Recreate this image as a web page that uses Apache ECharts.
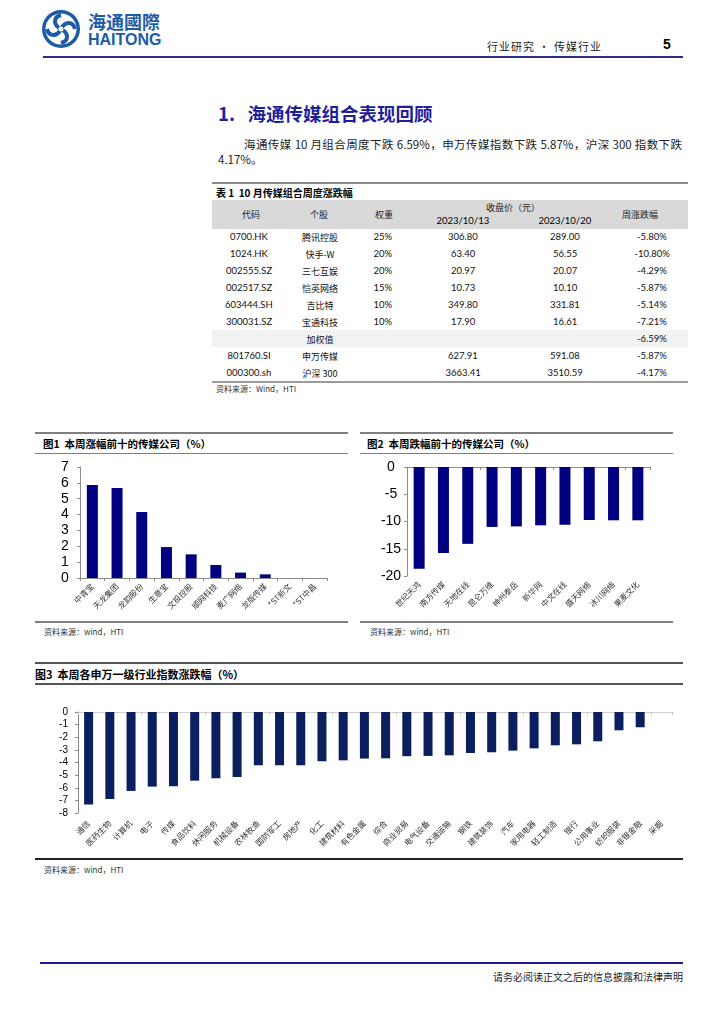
<!DOCTYPE html>
<html><head><meta charset="utf-8">
<script src="https://cdn.jsdelivr.net/npm/echarts@6/dist/echarts.min.js"></script>
<style>
body{margin:0;width:724px;height:1024px;position:relative;background:#fff;font-family:"Noto Sans CJK SC","Liberation Sans",sans-serif;overflow:hidden;color:#000;}
.a{position:absolute;white-space:pre;}
.ch{position:absolute;}
</style></head><body>
<script>
// ---------- DATA ----------
const headerText = '行业研究 • 传媒行业';
const pageNo = '5';
const sectionTitle = '1.   海通传媒组合表现回顾';
const paraLine1 = '海通传媒 10 月组合周度下跌 6.59%，申万传媒指数下跌 5.87%，沪深 300 指数下跌';
const paraLine2 = '4.17%。';
const tableTitle = '表 1  10 月传媒组合周度涨跌幅';
const codes = ['0700.HK','1024.HK','002555.SZ','002517.SZ','603444.SH','300031.SZ','','801760.SI','000300.sh'];
const names = ['腾讯控股','快手-W','三七互娱','恺英网络','吉比特','宝通科技','加权值','申万传媒','沪深 300'];
const weights = ['25%','20%','20%','15%','10%','10%','','',''];
const close1013 = ['306.80','63.40','20.97','10.73','349.80','17.90','','627.91','3663.41'];
const close1020 = ['289.00','56.55','20.07','10.10','331.81','16.61','','591.08','3510.59'];
const weekChg = ['-5.80%','-10.80%','-4.29%','-5.87%','-5.14%','-7.21%','-6.59%','-5.87%','-4.17%'];

const fig1Title = '图1  本周涨幅前十的传媒公司（%）';
const fig1Cats = ['中青宝','天龙集团','龙韵股份','生意宝','文投控股','顺网科技','麦广网络','龙版传媒','*ST新文','*ST中昌'];
const fig1Vals = [5.86,5.67,4.16,1.95,1.49,0.82,0.34,0.23,0,0];

const fig2Title = '图2  本周跌幅前十的传媒公司（%）';
const fig2Cats = ['世纪天鸿','南方传媒','天地在线','昆仑万维','神州泰岳','新华网','中文在线','盛天网络','冰川网络','果麦文化'];
const fig2Vals = [-18.65,-15.8,-14.1,-11.0,-10.9,-10.7,-10.6,-9.72,-9.78,-9.78];

const fig3Title = '图3  本周各申万一级行业指数涨跌幅（%）';
const fig3Cats = ['通信','医药生物','计算机','电子','传媒','食品饮料','休闲服务','机械设备','农林牧渔','国防军工','房地产','化工','建筑材料','有色金属','综合','商业贸易','电气设备','交通运输','钢铁','建筑装饰','汽车','家用电器','轻工制造','银行','公用事业','纺织服装','非银金融','采掘'];
const fig3Vals = [-7.33,-6.89,-6.25,-5.91,-5.88,-5.44,-5.25,-5.15,-4.22,-4.22,-4.22,-3.9,-3.83,-3.69,-3.67,-3.5,-3.48,-3.43,-3.25,-3.19,-3.06,-2.88,-2.64,-2.56,-2.32,-1.45,-1.21,0];

const sourceTable = '资料来源：Wind，HTI';
const sourceFig = '资料来源：wind，HTI';
const footerText = '请务必阅读正文之后的信息披露和法律声明';

// ---------- helpers ----------
function txt(s, x, yc, size, opt) {
  opt = opt || {};
  const d = document.createElement('div');
  d.className = 'a';
  d.textContent = s;
  d.style.fontSize = size + 'px';
  d.style.lineHeight = size + 'px';
  d.style.top = (yc - size / 2) + 'px';
  if (opt.bold) d.style.fontWeight = 'bold';
  if (opt.color) d.style.color = opt.color;
  if (opt.font) d.style.fontFamily = opt.font;
  if (opt.ls) d.style.letterSpacing = opt.ls + 'px';
  document.body.appendChild(d);
  const w = d.offsetWidth;
  if (opt.align === 'center') d.style.left = (x - w / 2) + 'px';
  else if (opt.align === 'right') d.style.left = (x - w) + 'px';
  else d.style.left = x + 'px';
  return d;
}
function rule(x1, x2, y, h, color) {
  const d = document.createElement('div');
  d.style.position = 'absolute';
  d.style.left = x1 + 'px'; d.style.width = (x2 - x1) + 'px';
  d.style.top = (y - h / 2) + 'px'; d.style.height = h + 'px';
  d.style.background = color;
  document.body.appendChild(d);
}
function box(x1, y1, x2, y2, color) {
  const d = document.createElement('div');
  d.style.position = 'absolute';
  d.style.left = x1 + 'px'; d.style.top = y1 + 'px';
  d.style.width = (x2 - x1) + 'px'; d.style.height = (y2 - y1) + 'px';
  d.style.background = color;
  document.body.appendChild(d);
}
function chartDiv(x, y, w, h) {
  const d = document.createElement('div');
  d.className = 'ch';
  d.style.left = x + 'px'; d.style.top = y + 'px';
  d.style.width = w + 'px'; d.style.height = h + 'px';
  document.body.appendChild(d);
  return d;
}

// ---------- header ----------
document.body.insertAdjacentHTML('beforeend',
 '<svg class="a" style="left:41px;top:9px" width="40" height="40" viewBox="0 0 40 40">' +
 '<circle cx="20" cy="20" r="19" fill="#1d5ba6"/>' +
 '<circle cx="20" cy="20" r="15.5" fill="#fff"/>' +
 '<path d="M20 6 C12 8 12 16 20 20 C28 24 28 32 20 34" stroke="#1d5ba6" stroke-width="4" fill="none"/>' +
 '<path d="M6 20 C8 28 16 28 20 20 C24 12 32 12 34 20" stroke="#1d5ba6" stroke-width="4" fill="none"/>' +
 '<circle cx="20" cy="20" r="2.5" fill="#fff"/></svg>');
txt('海通國際', 88, 21, 18, {bold: true, color: '#1d5ba6'});
txt('HAITONG', 88, 40, 16, {bold: true, color: '#1d5ba6', font: 'Liberation Sans'});
txt(headerText, 487, 46, 11, {ls: 1, color: '#222'});
txt(pageNo, 663, 44, 14, {bold: true, font: 'Liberation Sans'});
rule(43, 683, 57, 2, '#2b2d8e');

// ---------- section ----------
txt(sectionTitle, 218, 113, 18.5, {bold: true, color: '#1f1f99'});
(function(){
  const d = document.createElement('div');
  d.style.position = 'absolute';
  d.style.left = '244px'; d.style.top = '137px'; d.style.width = '438px';
  d.style.fontSize = '11.5px'; d.style.lineHeight = '14px';
  d.style.textAlign = 'justify'; d.style.textAlignLast = 'justify';
  d.style.whiteSpace = 'nowrap';
  d.style.color = '#222';
  d.textContent = paraLine1;
  document.body.appendChild(d);
})();
txt(paraLine2, 218, 160, 11.5, {color: '#222'});

// ---------- table ----------
rule(212, 688, 183, 1.5, '#8a8a8a');
txt(tableTitle, 216, 193, 10, {bold: true});
box(212, 200, 688, 229, '#d9d9d9');
txt('代码', 251, 214, 9, {align: 'center', color: '#222'});
txt('个股', 319, 214, 9, {align: 'center', color: '#222'});
txt('权重', 384, 214, 9, {align: 'center', color: '#222'});
txt('收盘价（元）', 513, 207, 9, {align: 'center', color: '#222'});
txt('2023/10/13', 463, 221, 9.5, {align: 'center', font: 'Lato'});
txt('2023/10/20', 565, 221, 9.5, {align: 'center', font: 'Lato'});
txt('周涨跌幅', 640, 214, 9, {align: 'center', color: '#222'});
box(212, 330, 688, 347, '#f2f2f2');
const colX = [249, 320, 383, 463, 565, 652];
for (let i = 0; i < codes.length; i++) {
  const y = 237 + 17 * i;
  const row = [codes[i], names[i], weights[i], close1013[i], close1020[i], weekChg[i]];
  row.forEach((v, j) => {
    if (!v) return;
    const cjk = /[\u4e00-\u9fff]/.test(v);
    txt(v, colX[j], y, cjk ? 9 : 9.5, {align: 'center', font: cjk ? '"Noto Sans CJK SC"' : 'Lato', color: '#111'});
  });
}
rule(212, 688, 382, 1.5, '#9a9a9a');
txt(sourceTable, 216, 389, 8, {color: '#333'});

// ---------- figure frames ----------
rule(35, 348, 433, 1.5, '#7f7f7f');
rule(35, 348, 453, 1, '#7f7f7f');
rule(35, 348, 622, 1.5, '#7f7f7f');
txt(fig1Title, 43, 444, 10.5, {bold: true});
txt(sourceFig, 44, 632, 8, {color: '#333'});

rule(360, 673, 433, 1.5, '#7f7f7f');
rule(360, 673, 453, 1, '#7f7f7f');
rule(360, 673, 622, 1.5, '#7f7f7f');
txt(fig2Title, 367, 444, 10.5, {bold: true});
txt(sourceFig, 370, 632, 8, {color: '#333'});

rule(35, 683, 663, 1.5, '#555');
rule(35, 683, 684, 1.5, '#555');
rule(35, 683, 859, 1.5, '#222');
txt(fig3Title, 35, 674, 11, {bold: true});
txt(sourceFig, 44, 870, 8, {color: '#333'});

// ---------- footer ----------
rule(40, 683, 963, 2.5, '#1c1c8c');
txt(footerText, 683, 977, 10, {align: 'right', color: '#222'});

// ---------- charts ----------
const axisGray = '#8c8c8c';
const catLabel = {rotate: 45, fontSize: 8, color: '#333', interval: 0, margin: 7, fontFamily: 'Noto Sans CJK SC'};

const c1 = echarts.init(chartDiv(35, 455, 313, 165));
c1.setOption({
  animation: false,
  grid: {left: 45, top: 12, width: 247, height: 111},
  xAxis: {type: 'category', data: fig1Cats,
    axisLine: {lineStyle: {color: axisGray}}, axisTick: {show: true, length: 3, lineStyle: {color: axisGray}},
    axisLabel: catLabel},
  yAxis: {type: 'value', min: 0, max: 7, interval: 1,
    axisLine: {show: true, lineStyle: {color: axisGray}}, axisTick: {show: true, length: 3, lineStyle: {color: axisGray}},
    splitLine: {show: false},
    axisLabel: {fontSize: 14, color: '#000', fontFamily: 'Liberation Sans', margin: 15, align: 'center'}},
  series: [{type: 'bar', data: fig1Vals, barWidth: 11, itemStyle: {color: '#000080'}}]
});

const c2 = echarts.init(chartDiv(360, 455, 313, 165));
c2.setOption({
  animation: false,
  grid: {left: 47, top: 12, width: 243, height: 109},
  xAxis: [
    {type: 'category', data: fig2Cats, position: 'top',
      axisLine: {onZero: false, lineStyle: {color: axisGray}}, axisTick: {show: true, inside: true, length: 3, lineStyle: {color: axisGray}},
      axisLabel: {show: false}},
    {type: 'category', data: fig2Cats, position: 'bottom',
      axisLine: {show: false, onZero: false}, axisTick: {show: false}, axisLabel: catLabel}
  ],
  yAxis: {type: 'value', min: -20, max: 0, interval: 5,
    axisLine: {show: true, lineStyle: {color: axisGray}}, axisTick: {show: true, length: 3, lineStyle: {color: axisGray}},
    splitLine: {show: false},
    axisLabel: {fontSize: 14, color: '#000', fontFamily: 'Liberation Sans', margin: 16, align: 'center'}},
  series: [{type: 'bar', xAxisIndex: 0, data: fig2Vals, barWidth: 11, itemStyle: {color: '#000080'}}]
});

const c3 = echarts.init(chartDiv(35, 690, 648, 168));
c3.setOption({
  animation: false,
  grid: {left: 43, top: 22, width: 594, height: 101},
  xAxis: [
    {type: 'category', data: fig3Cats, position: 'top',
      axisLine: {onZero: false, lineStyle: {color: '#d0d0d0'}}, axisTick: {show: true, inside: true, length: 3, lineStyle: {color: '#c0c0c0'}},
      axisLabel: {show: false}},
    {type: 'category', data: fig3Cats, position: 'bottom',
      axisLine: {show: false, onZero: false}, axisTick: {show: false},
      axisLabel: Object.assign({}, catLabel, {margin: 9})}
  ],
  yAxis: {type: 'value', min: -8, max: 0, interval: 1,
    axisLine: {show: true, lineStyle: {color: axisGray}}, axisTick: {show: true, length: 3, lineStyle: {color: axisGray}},
    splitLine: {show: false},
    axisLabel: {fontSize: 10, color: '#000', fontFamily: 'Liberation Sans', margin: 10}},
  series: [{type: 'bar', xAxisIndex: 0, data: fig3Vals, barWidth: 9, itemStyle: {color: '#0b1f5e'}}]
});
</script>
</body></html>
